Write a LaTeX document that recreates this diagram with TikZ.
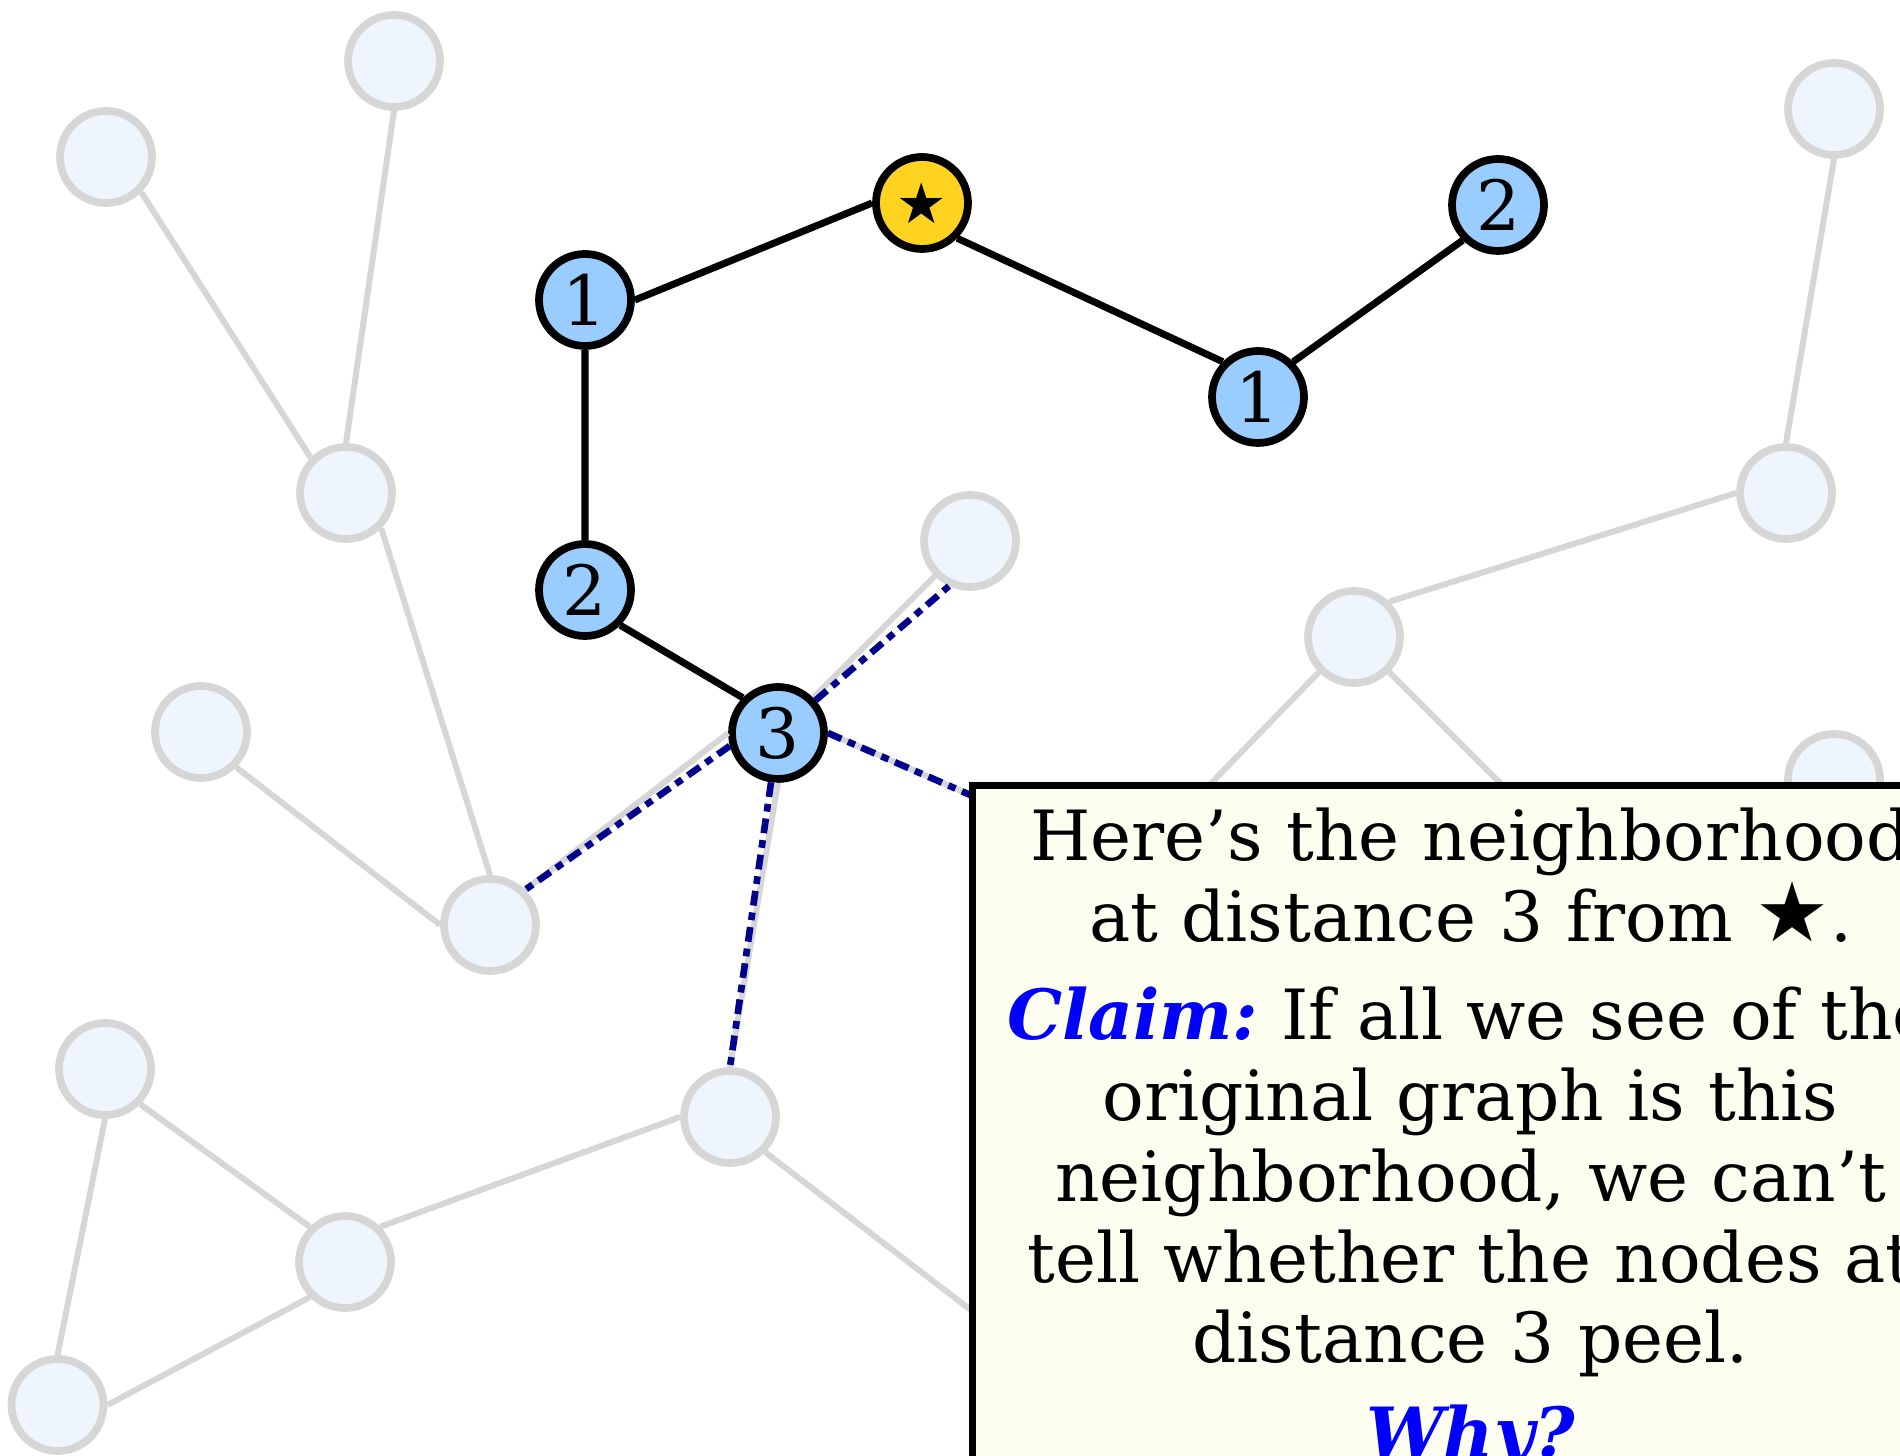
\documentclass[tikz,border=0pt]{standalone}
\usepackage{fontspec}
\setmainfont{DejaVu Serif}
\newfontfamily\starfont{DejaVu Sans}

\definecolor{ghostline}{RGB}{214,214,214}
\definecolor{ghostfill}{RGB}{238,245,253}
\definecolor{hoodblue}{RGB}{153,204,255}
\definecolor{rootgold}{RGB}{255,211,32}
\definecolor{probeblue}{RGB}{0,0,140}
\definecolor{boxfill}{RGB}{254,254,240}

\begin{document}
\begin{tikzpicture}[
		ghost/.style={circle, draw=ghostline, fill=ghostfill, line width=2.2pt, minimum size=0.92cm, inner sep=0pt},
		hood/.style={circle, draw=black, fill=hoodblue, line width=2.2pt, minimum size=0.92cm, inner sep=0pt, font=\fontsize{19.7}{23}\selectfont},
		root/.style={hood, fill=rootgold},
		ghostedge/.style={draw=ghostline, line width=1.7pt},
		hoodedge/.style={draw=black, line width=2pt},
		probe/.style={draw=probeblue, line width=1.9pt, dash pattern=on 4.2pt off 2pt on 2.2pt off 2pt},
		claimbox/.style={draw=black, fill=boxfill, line width=2pt, inner xsep=0pt, inner ysep=6.3pt, text width=9.96cm, align=center, font=\fontsize{19.7}{23}\selectfont\frenchspacing}
	]
		\useasboundingbox (0,0) rectangle (19,14.55);
		
		% --- Faded background graph ---
		\node[ghost] (g1) at (3.94,13.94) {};
		\node[ghost] (g2) at (1.06,12.98) {};
		\node[ghost] (g3) at (3.46,9.62) {};
		\node[ghost] (g4) at (2.01,7.23) {};
		\node[ghost] (g5) at (4.90,5.30) {};
		\node[ghost] (g6) at (9.70,9.14) {};
		\node[ghost] (g7) at (18.34,13.46) {};
		\node[ghost] (g8) at (17.86,9.62) {};
		\node[ghost] (g9) at (13.54,8.18) {};
		\node[ghost] (g10) at (18.34,6.75) {};
		\node[ghost] (g11) at (1.05,3.86) {};
		\node[ghost] (g12) at (3.45,1.93) {};
		\node[ghost] (g13) at (0.575,0.50) {};
		\node[ghost] (g14) at (7.30,3.38) {};
		
		% hidden ends (under the box)
		\coordinate (h1) at (11.59,6.18);
		\coordinate (h2) at (15.54,6.18);
		\coordinate (h3) at (10.71,0.68);
		\coordinate (h4) at (10.37,6.31);
		
		% --- Neighborhood of the star ---
		\node[root] (star) at (9.22,12.52) {\starfont\fontsize{16}{16}\selectfont ★};
		\node[hood] (a1) at (5.85,11.55) {1};
		\node[hood] (a2) at (5.85,8.65) {2};
		\node[hood] (a3) at (7.78,7.22) {3};
		\node[hood] (b1) at (12.58,10.58) {1};
		\node[hood] (b2) at (14.98,12.50) {2};
		
		% --- Edges ---
		\draw[ghostedge] (g2.south east) -- (g3.north west) (g1.south) -- (g3.north)
			(g3.south east) -- (g5.north) (g4.south east) -- (g5.west);
		\draw[ghostedge] (g8.north) -- (g7.south) (g8.west) -- (g9.north east)
			(g9.south west) -- (h1) (g9.south east) -- (h2);
		\draw[ghostedge] (g11.south east) -- (g12.north west) (g11.south) -- (g13.north)
			(g12.south west) -- (g13.east) (g12.north east) -- (g14.west) (g14.south east) -- (h3);
		\draw[ghostedge] (a3.west) -- (g5.north east) (a3.north east) -- (g6.south west)
			(a3.south) -- (g14.north) (a3.east) -- (h4);
		
		\draw[hoodedge] (star.west) -- (a1.east) (a1.south) -- (a2.north) (a2.south east) -- (a3.north west);
		\draw[hoodedge] (star.south east) -- (b1.north west) (b1.north east) -- (b2.south west);
		
		% edges leaving distance 3
		\draw[probe] (a3.41) -- (g6.245);
		\draw[probe] (a3.195) -- (g5.45);
		\draw[probe] (a3.262) -- (g14.north);
		\draw[probe] (a3.east) -- (h4);
		
		% --- Claim box ---
		\node[claimbox, anchor=north west] (claim) at (9.69,6.73) {%
			Here’s the neighborhood\\
			at distance 3 from {\starfont\fontsize{23.5}{23}\selectfont\smash{★}}.\\[5pt]
			{\color{blue}\bfseries\itshape Claim:} If all we see of the\\
			original graph is this\\
			neighborhood, we can’t\\
			tell whether the nodes at\\
			distance 3 peel.\\[4pt]
			{\color{blue}\bfseries\itshape Why?}};
		
	\end{tikzpicture}
\end{document}
